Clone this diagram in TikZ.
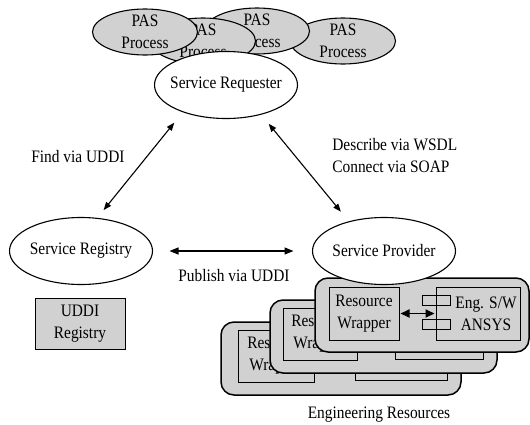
\documentclass[tikz,border=0pt]{standalone}
\usepackage{fontspec}
\setmainfont{Liberation Serif}[FakeStretch=0.88]
\usetikzlibrary{arrows.meta, shapes.geometric}

\begin{document}
\begin{tikzpicture}[x=1pt, y=-1pt,
  every node/.style={font=\fontsize{17.5}{22}\selectfont, outer sep=0pt},
  proc/.style={ellipse, draw, line width=1.1pt, fill=black!18, inner xsep=-15pt, inner ysep=-6pt, minimum width=105pt, minimum height=46pt, align=center},
  role/.style={ellipse, draw, line width=1.1pt, fill=white, inner xsep=-15pt, inner ysep=-6pt, minimum width=143pt, minimum height=67pt},
  card/.style={draw, line width=1.5pt, fill=black!18, rounded corners=13pt, inner sep=0pt},
  part/.style={draw, line width=0.9pt, inner sep=0pt, align=center},
  tab/.style={draw, line width=0.9pt, inner sep=0pt, minimum width=28pt, minimum height=10pt},
  link/.style={{Triangle[length=8pt,width=6pt]}-{Triangle[length=8pt,width=6pt]}, line width=1.1pt},
  wide link/.style={{Triangle[length=9pt,width=7pt]}-{Triangle[length=9pt,width=7pt]}, line width=1.3pt},
  thick link/.style={{Triangle[length=9pt,width=8pt]}-{Triangle[length=9pt,width=8pt]}, line width=1.9pt}]
\useasboundingbox (0,0) rectangle (530,424);

% engineering resources, back to front
\node[card, minimum width=240pt, minimum height=73pt] (card3) at (341,358.5) {};
\node[part, minimum width=76pt, minimum height=52pt] (wrap3) at (276,356) {Resource\\Wrapper};
\node[part, minimum width=92pt, minimum height=50pt] (eng3) at (401,355) {};
\node[card, minimum width=227pt, minimum height=73pt] (card2) at (383.5,336.5) {};
\node[part, minimum width=74pt, minimum height=52pt] (wrap2) at (320,334) {Resource\\Wrapper};
\node[part, minimum width=88pt, minimum height=51pt] (eng2) at (439,333.5) {};
\node[card, minimum width=214pt, minimum height=74pt] (card1) at (422,315) {};
\node[part, minimum width=70pt, minimum height=53pt] (wrap1) at (364,313.5) {Resource\\Wrapper};
\node[part, minimum width=84pt, minimum height=53pt] (eng1) at (478,313.5) {};
\node[align=center] (ansys) at (486,313.5) {Eng. S/W\\ANSYS};
\node[tab] (tab1) at ([yshift=13pt]eng1.west) {};
\node[tab] (tab2) at ([yshift=-11pt]eng1.west) {};
\draw[thick link, shorten <=1.5pt, shorten >=1.5pt] (wrap1) -- (eng1);
\node (engres) at (379,415) {Engineering Resources};

% PAS processes
\node[proc] (pas4) at (343,41) {PAS\\Process};
\node[proc] (pas3) at (257,31) {PAS\\Process};
\node[proc] (pas2) at (203,41) {PAS\\Process};
\node[proc] (pas1) at (145,32) {PAS\\Process};

% roles
\node[role] (req) at (226,85) {Service Requester};
\node[role] (reg) at (81,251) {Service Registry};
\node[role] (prov) at (384,251) {Service Provider};
\node[draw, fill=black!18, line width=1pt, minimum width=90pt, minimum height=51pt, align=center] (uddi) at (80,323.5) {UDDI\\Registry};

\draw[link, shorten <=14pt, shorten >=10.6pt] (req.212) -- (reg.64.6);
\draw[link, shorten <=12.3pt, shorten >=13pt] (req.320) -- (prov.140.8);
\draw[wide link, shorten <=17pt, shorten >=19pt] (reg.east) -- (prov.west);

\node (find) at (78,157) {Find via UDDI};
\node[anchor=west, align=left] (wsdl) at (329,156) {Describe via WSDL\\Connect via SOAP};
\node (pub) at (234,276) {Publish via UDDI};
\end{tikzpicture}
\end{document}
